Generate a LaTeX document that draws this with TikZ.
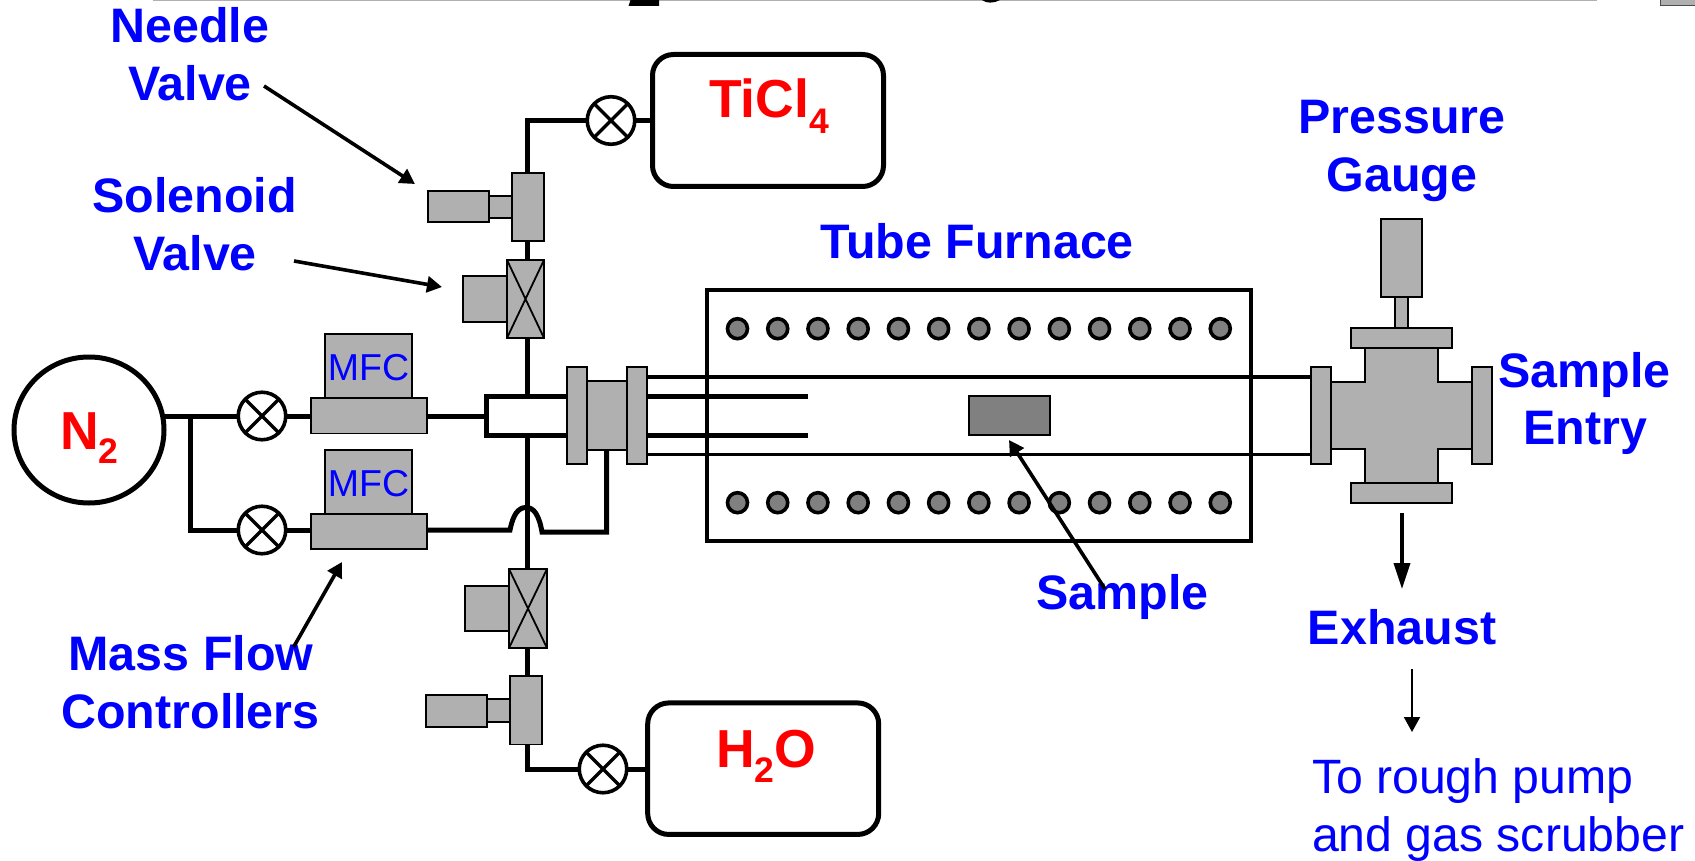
\documentclass[tikz,border=0pt]{standalone}
\usepackage{fontspec}
\setmainfont{Liberation Sans}
\usetikzlibrary{arrows.meta,calc,shapes.geometric}
\definecolor{part}{HTML}{B0B0B0}
\definecolor{dotc}{HTML}{808080}
\definecolor{lab}{HTML}{0000FF}
\definecolor{chem}{HTML}{FF0000}
\tikzset{
  partbox/.style={draw=black,fill=part,line width=1.8pt,inner sep=0pt,outer sep=0pt},
  pipe/.style={draw=black,line width=5pt},
  thinpipe/.style={draw=black,line width=3.2pt},
  tank/.style={draw=black,fill=white,line width=5pt,rounded corners=21pt,inner sep=0pt,outer sep=0pt},
  lbl/.style={text=lab,font=\fontsize{48.4}{48.4}\selectfont\bfseries,anchor=base,inner sep=0pt,outer sep=0pt},
  reglbl/.style={text=lab,font=\fontsize{48.2}{48.2}\selectfont,anchor=base west,inner sep=0pt,outer sep=0pt},
  mfclbl/.style={text=lab,font=\fontsize{37.5}{37.5}\selectfont,anchor=base,inner sep=0pt,outer sep=0pt},
  chemlbl/.style={text=chem,font=\fontsize{53.5}{53.5}\selectfont\bfseries,anchor=base west,inner sep=0pt,outer sep=0pt},
  callout/.style={draw=black,line width=3.6pt,-{Triangle[length=15pt,width=16pt]}},
  dotn/.style={circle,draw=black,fill=dotc,line width=3.6pt,minimum size=20pt,inner sep=0pt,outer sep=0pt},
  valvec/.style={circle,draw=black,fill=white,line width=3.6pt,minimum size=47.5pt,inner sep=0pt,outer sep=0pt},
}
% name, x1, y1, x2, y2: grey part as a named node
\newcommand{\gpart}[5]{%
  \pgfmathsetmacro{\gpw}{#4-#2}\pgfmathsetmacro{\gph}{#5-#3}%
  \node[partbox,minimum width=\gpw pt,minimum height=\gph pt] (#1) at ({(#2+#4)/2},{(#3+#5)/2}) {};}
% name, x, y: hand valve (circle with a cross)
\newcommand{\hvalve}[3]{%
  \node[valvec] (#1) at (#2,#3) {};
  \draw[line width=3.4pt] (#1.45) -- (#1.225) (#1.135) -- (#1.315);}
\newcommand{\xlines}[1]{%
  \draw[line width=1.8pt] (#1.north west) -- (#1.south east) (#1.north east) -- (#1.south west);}
\newcommand{\sub}[2]{{\fontsize{35.5}{35.5}\selectfont\raisebox{#1}{#2}}}
\begin{document}
\begin{tikzpicture}[x=1pt,y=-1pt]
\useasboundingbox (0,0) rectangle (1695,861);
\fill[white] (0,0) rectangle (1695,861);

% cut-off marks along the top edge
\fill[part] (153,0) rectangle (1597,1.4);
\fill[black] (628.5,6) -- (630.5,0) -- (659,0) -- (659,6) -- cycle;
\fill[black] (982,0) .. controls (986,3.5) and (994,3.5) .. (1000,0) -- cycle;
\filldraw[draw=black!70,fill=part,line width=1pt] (1660,-2) -- (1660,6) -- (1697,6) -- (1697,-2) -- cycle;

% thin tube first, so that the furnace wall runs over it
\coordinate (tubeAL) at (647,377);
\coordinate (tubeBL) at (647,454.5);
\coordinate (tubeAR) at (1311,377);
\coordinate (tubeBR) at (1311,454.5);
\draw[thinpipe] (tubeAL) -- (tubeAR);
\draw[thinpipe] (tubeBL) -- (tubeBR);

% injector
\coordinate (injTL) at (486,396);
\coordinate (injBL) at (486,435);
\coordinate (injTR) at (807.5,396);
\coordinate (injBR) at (807.5,435);
\draw[line width=5pt,draw=black] (injTR) -- (injTL) -- (injBL) -- (injBR);

% furnace
\node[draw=black,line width=4pt,minimum width=544pt,minimum height=251pt,inner sep=0pt] (furnace) at (979,415) {};
\foreach \i in {0,...,12}{
  \node[dotn] (dt\i) at ({737.5+40.23*\i},328.7) {};
  \node[dotn] (db\i) at ({737.5+40.23*\i},502.7) {};
}

% tanks
\node[tank,minimum width=231pt,minimum height=132pt] (ticl) at (768,120.5) {};
\node[tank,minimum width=231pt,minimum height=131.5pt] (water) at (763.2,768.7) {};
\node[draw=black,fill=white,line width=5pt,ellipse,minimum width=150pt,minimum height=146pt,inner sep=0pt,outer sep=0pt] (ntwo) at (89,430) {};

% hand valves
\hvalve{vT}{611}{120.5}
\hvalve{vW}{603}{769}
\hvalve{vA}{262}{416}
\hvalve{vB}{262}{530}

% grey parts, top group
\gpart{ntop}{512}{173}{544}{241}
\gpart{ntopS}{489}{196}{512}{218}
\gpart{ntopB}{428}{191}{489}{222}
\gpart{stop}{507}{260}{544}{338}
\gpart{stopB}{463}{276}{507}{322}
\xlines{stop}
% grey parts, bottom group
\gpart{sbot}{509}{569}{547}{648}
\gpart{sbotB}{465}{586}{509}{631}
\xlines{sbot}
\gpart{nbot}{510}{676}{542}{744.5}
\gpart{nbotS}{487}{699}{510}{722}
\gpart{nbotB}{426}{695}{487}{727}
% MFCs
\gpart{mfcAt}{325}{334}{412}{398}
\gpart{mfcAb}{311}{398}{427}{433.5}
\gpart{mfcBt}{325}{450}{412}{514}
\gpart{mfcBb}{311}{514}{427}{549}

% pipes
\coordinate (cT) at (527,120.5);
\draw[pipe] (vT.west) -- (cT) -- (cT |- ntop.north);
\draw[pipe] (vT.east) -- (vT -| ticl.west);
\coordinate (xA) at (527,241);
\draw[pipe] (xA) -- (xA |- stop.north);
\coordinate (xB) at (527,338);
\coordinate (xC) at (527,396);
\draw[pipe] (xB) -- (xC);
\coordinate (xD) at (527,435);
\coordinate (xE) at (527,569);
\draw[pipe] (xD) -- (xE);
\coordinate (xF) at (527,648);
\coordinate (xG) at (527,676);
\draw[pipe] (xF) -- (xG);
\coordinate (xH) at (527,745);
\coordinate (cW) at (527,769);
\draw[pipe] (xH) -- (cW) -- (vW.west);
\draw[pipe] (vW.east) -- (vW -| water.west);

\coordinate (jN) at (190,416);
\coordinate (jS) at (190,530);
\draw[pipe] (ntwo.east |- jN) -- (vA.west);
\draw[pipe] (jN) -- (jS) -- (vB.west);
\draw[pipe] (vA.east) -- (vA -| mfcAb.west);
\draw[pipe] (vB.east) -- (vB -| mfcBb.west);

\coordinate (mA) at (486,416);
\draw[pipe] (mfcAb.east |- mA) -- (mA);

% flanges on the left
\gpart{flA}{567}{367}{587}{464}
\gpart{flM}{587}{381}{627}{450}
\gpart{flB}{627}{367}{647}{464}

% second MFC line with hop over the main pipe
\coordinate (hopA) at (510,530);
\coordinate (hopB) at (542,532);
\coordinate (dropB) at (606.5,532);
\draw[pipe] (mfcBb.east |- hopA) -- (hopA)
  .. controls (513,515) and (518,507.5) .. (526,507.5)
  .. controls (534,507.5) and (539,515) .. (hopB) -- (dropB) -- (dropB |- flM.south);

% sample
\node[draw=black,fill=dotc,line width=2pt,minimum width=81pt,minimum height=38.5pt,inner sep=0pt,outer sep=0pt] (sample) at (1009,415.5) {};

% pressure gauge and cross
\draw[fill=part,draw=black,line width=2.6pt]
  (1365,348) -- (1438,348) -- (1438,382) -- (1472,382) -- (1472,449) -- (1438,449) -- (1438,483)
  -- (1365,483) -- (1365,449) -- (1331,449) -- (1331,382) -- (1365,382) -- cycle;
\gpart{gauge}{1381}{219}{1422}{297}
\gpart{gaugeS}{1395}{297}{1408}{328}
\gpart{flT}{1351}{328}{1452}{348}
\gpart{flD}{1351}{483}{1452}{503}
\gpart{flL}{1311}{367}{1331}{464}
\gpart{flR}{1472}{367}{1492}{464}

% labels
\node[lbl] (tNeedle) at (190,42.7) {Needle};
\node[lbl] (tValveA) at (190,100.5) {Valve};
\node[lbl] (tSol) at (194.5,212.7) {Solenoid};
\node[lbl] (tValveB) at (195,270.7) {Valve};
\node[lbl] (tFurn) at (977,258.5) {Tube Furnace};
\node[lbl] (tPress) at (1402,133.5) {Pressure};
\node[lbl] (tGauge) at (1402,191.5) {Gauge};
\node[lbl] (tSampleE) at (1584.5,387.5) {Sample};
\node[lbl] (tEntry) at (1585.5,444.5) {Entry};
\node[lbl] (tSample) at (1122.5,609) {Sample};
\node[lbl] (tExh) at (1402,644) {Exhaust};
\node[lbl] (tMass) at (191,670) {Mass Flow};
\node[lbl] (tCtrl) at (190.5,728) {Controllers};
\node[reglbl] (tRough) at (1312,793) {To rough pump};
\node[reglbl] (tScrub) at (1312,851) {and gas scrubber};
\node[mfclbl] (tMfcA) at (368.5,380) {MFC};
\node[mfclbl] (tMfcB) at (368.5,496) {MFC};
\node[chemlbl] (tTi) at (709,118) {TiCl\sub{-15.5pt}{4}};
\node[chemlbl] (tWa) at (716,767.7) {H\sub{-15pt}{2}O};
\node[chemlbl] (tNt) at (60,449) {N\sub{-14.5pt}{2}};

% callouts
\coordinate (aN1) at (264,86);
\coordinate (aN2) at (415,184);
\draw[callout] (aN1) -- (aN2);
\coordinate (aS1) at (294,261);
\coordinate (aS2) at (442,287);
\draw[callout] (aS1) -- (aS2);
\coordinate (aM1) at (293.6,647);
\coordinate (aM2) at (342,562);
\draw[callout] (aM1) -- (aM2);
\coordinate (aP1) at (1105,589);
\coordinate (aP2) at (1009,440);
\draw[callout] (aP1) -- (aP2);
\coordinate (aE1) at (1402,513);
\coordinate (aE2) at (1402,589);
\draw[draw=black,line width=3.6pt,-{Triangle[length=26pt,width=16pt]}] (aE1) -- (aE2);
\coordinate (aR1) at (1412,669);
\coordinate (aR2) at (1412,732);
\draw[draw=black,line width=2pt,-{Triangle[length=15pt,width=16pt]}] (aR1) -- (aR2);
\end{tikzpicture}
\end{document}
